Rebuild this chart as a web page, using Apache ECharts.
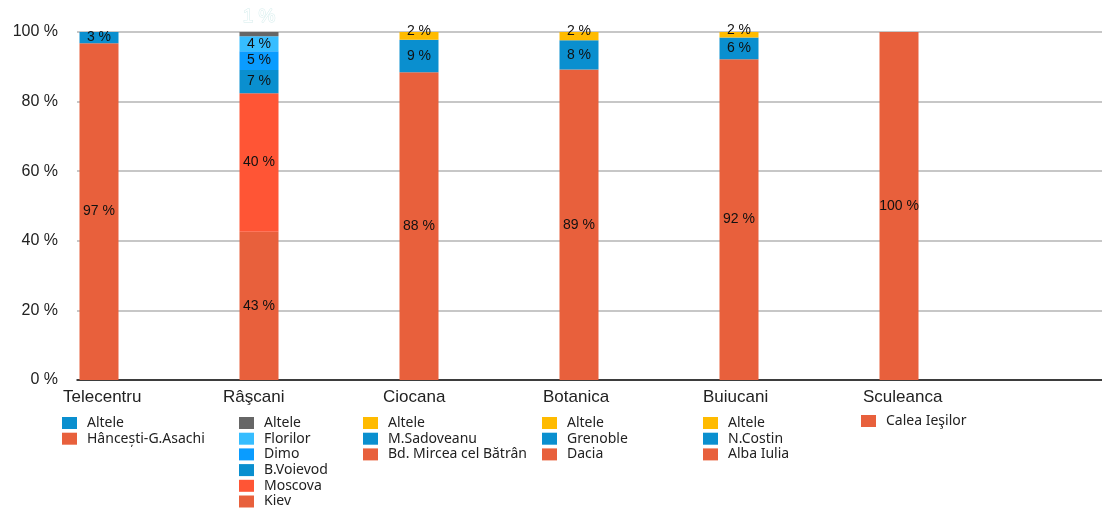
<!DOCTYPE html>
<html>
<head>
<meta charset="utf-8">
<script src="https://cdn.jsdelivr.net/npm/echarts@6/dist/echarts.min.js"></script>
<style>html,body{margin:0;padding:0;background:#fff;}#c{width:1102px;height:509px;}</style>
</head>
<body>
<div id="c"></div>
<script>
// ---- data ----
const categories = ['Telecentru', 'Râşcani', 'Ciocana', 'Botanica', 'Buiucani', 'Sculeanca'];
const yTicks = [0, 20, 40, 60, 80, 100];
// segments per district, bottom to top: [name, value %]
const telecentru = [['Hâncești-G.Asachi', 96.8], ['Altele', 3.2]];
const rascani = [['Kiev', 42.6], ['Moscova', 39.8], ['B.Voievod', 6.7], ['Dimo', 5.4], ['Florilor', 4.3], ['Altele', 1.2]];
const ciocana = [['Bd. Mircea cel Bătrân', 88.4], ['M.Sadoveanu', 9.4], ['Altele', 2.2]];
const botanica = [['Dacia', 89.2], ['Grenoble', 8.4], ['Altele', 2.4]];
const buiucani = [['Alba Iulia', 92.2], ['N.Costin', 6.2], ['Altele', 1.6]];
const sculeanca = [['Calea Ieşilor', 100]];
const districts = [telecentru, rascani, ciocana, botanica, buiucani, sculeanca];

// colours (style)
const colorMap = {
  'Telecentru|Hâncești-G.Asachi': '#e8603c', 'Telecentru|Altele': '#0a8fcf',
  'Râşcani|Kiev': '#e8603c', 'Râşcani|Moscova': '#ff5535', 'Râşcani|B.Voievod': '#0a8fcf',
  'Râşcani|Dimo': '#0a9cff', 'Râşcani|Florilor': '#36bdff', 'Râşcani|Altele': '#666666',
  'Ciocana|Bd. Mircea cel Bătrân': '#e8603c', 'Ciocana|M.Sadoveanu': '#0a8fcf', 'Ciocana|Altele': '#ffbb00',
  'Botanica|Dacia': '#e8603c', 'Botanica|Grenoble': '#0a8fcf', 'Botanica|Altele': '#ffbb00',
  'Buiucani|Alba Iulia': '#e8603c', 'Buiucani|N.Costin': '#0a8fcf', 'Buiucani|Altele': '#ffbb00',
  'Sculeanca|Calea Ieşilor': '#e8603c'
};
const legendLeft = [62, 239, 363, 542, 703, 861];
const legendTop = [416, 416, 416, 416, 416, 414];

const series = [];
const legends = [];
districts.forEach((segs, ci) => {
  const names = [];
  segs.forEach(([name, val], si) => {
    const full = categories[ci] + '|' + name;
    names.unshift(full);
    const data = categories.map((_, k) => k === ci ? val : '-');
    const isGhost = (ci === 1 && name === 'Altele');
    const small = val < 3;
    series.push({
      type: 'bar', name: full, stack: 'all', xAxisIndex: 1, yAxisIndex: 1,
      barWidth: 39, data: data,
      itemStyle: { color: colorMap[full] },
      label: isGhost ? {
        show: true, position: 'top', distance: 6,
        formatter: p => Math.round(p.value) + ' %',
        color: '#ffffff', fontSize: 19, fontFamily: 'Liberation Sans',
        textBorderColor: '#d4ecec', textBorderWidth: 1
      } : {
        show: true, position: 'inside', offset: small ? [0, -5] : [0, 0],
        formatter: p => Math.round(p.value) + ' %',
        color: '#111', fontSize: 14, fontFamily: 'Liberation Sans'
      },
      emphasis: { disabled: true }
    });
  });
  legends.push({
    orient: 'vertical', left: legendLeft[ci], top: legendTop[ci], height: 120, padding: 0,
    data: names, icon: 'rect', itemWidth: 15, itemHeight: 12, itemGap: 1.7,
    selectedMode: false,
    formatter: n => n.split('|')[1],
    textStyle: { fontFamily: 'Noto Sans', fontSize: 14, color: '#222', padding: [0, 0, 0, 5] }
  });
});

const chart = echarts.init(document.getElementById('c'), null, { renderer: 'canvas' });
chart.setOption({
  animation: false,
  backgroundColor: '#ffffff',
  legend: legends,
  grid: [
    { left: 77, right: 0, top: 32, bottom: 129 },
    { left: 19, width: 960, top: 32, bottom: 129 }
  ],
  xAxis: [
    { type: 'value', gridIndex: 0, min: 0, max: 1, show: true,
      axisLine: { show: true, lineStyle: { color: '#111', width: 1.5 } },
      axisTick: { show: false }, axisLabel: { show: false }, splitLine: { show: false } },
    { type: 'category', gridIndex: 1, data: categories,
      axisLine: { show: false }, axisTick: { show: false },
      axisLabel: {
        margin: 9, interval: 0,
        formatter: v => '{a|' + v + '}',
        rich: { a: { width: 72, align: 'left', fontFamily: 'Liberation Sans', fontSize: 17, color: '#222' } }
      } }
  ],
  yAxis: [
    { type: 'value', gridIndex: 0, min: 0, max: 100, interval: 20,
      axisLine: { show: false }, axisTick: { show: false },
      axisLabel: { formatter: v => yTicks.includes(v) ? v + ' %' : '', margin: 19,
        fontFamily: 'Liberation Sans', fontSize: 16, color: '#222' },
      splitLine: { show: true, lineStyle: { color: '#b4b4b4', width: 1.5 } } },
    { type: 'value', gridIndex: 1, min: 0, max: 100, show: false }
  ],
  series: series
});
</script>
</body>
</html>
